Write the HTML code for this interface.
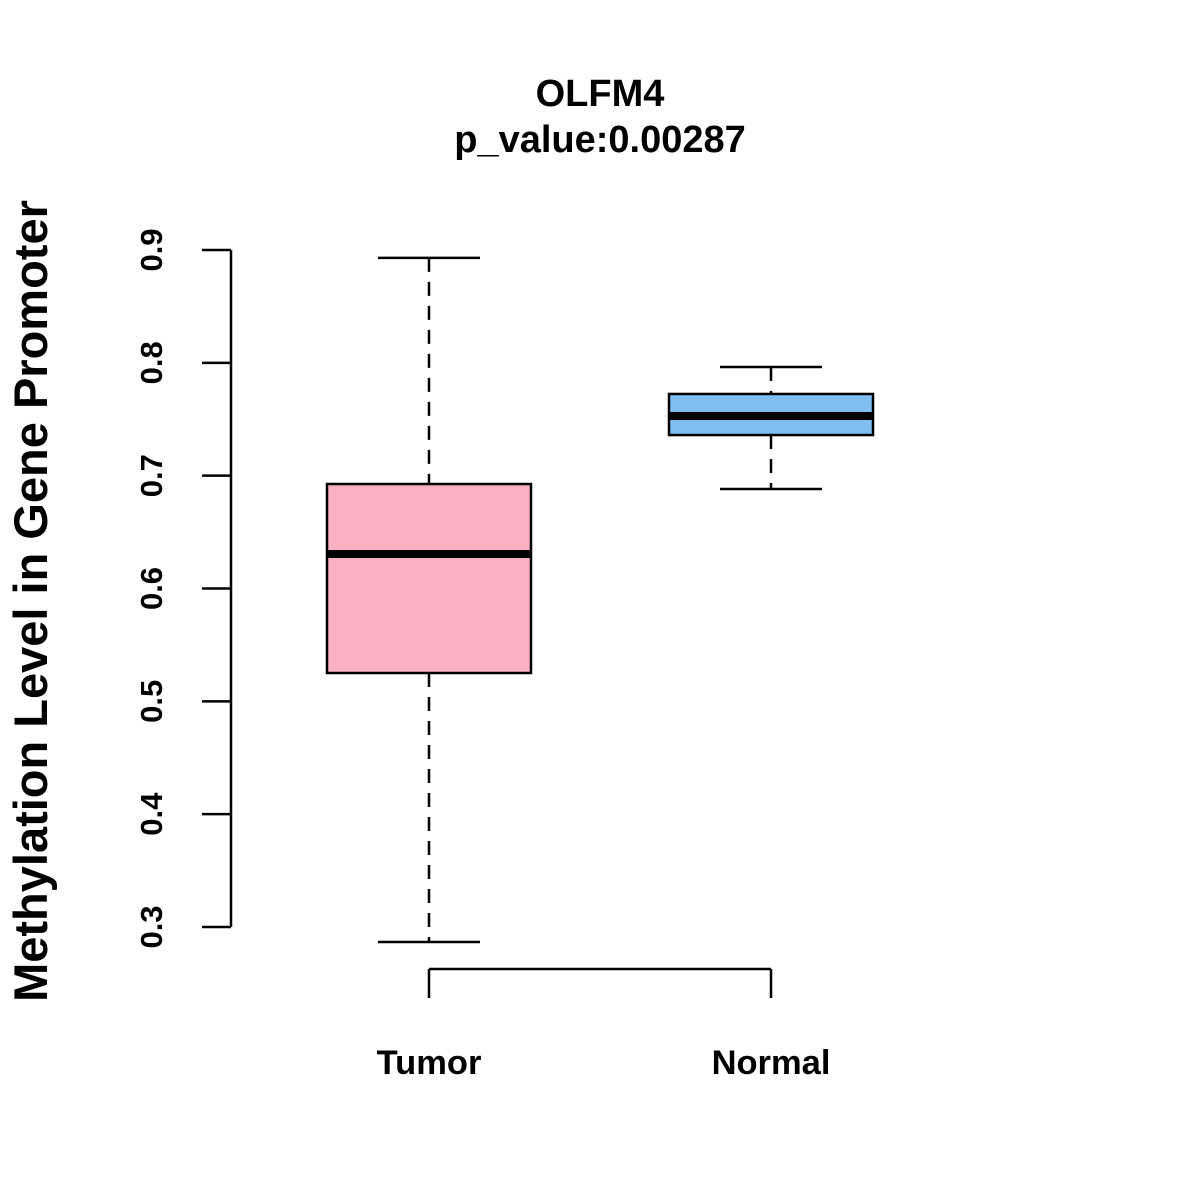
<!DOCTYPE html>
<html><head><meta charset="utf-8"><style>html,body{margin:0;padding:0;background:#fff}svg{display:block}text{font-family:"Liberation Sans",Arial,sans-serif;font-weight:bold;fill:#000}</style></head>
<body>
<svg id="chart" width="1200" height="1200">
<text x="600" y="106" text-anchor="middle" font-size="38">OLFM4</text>
<text x="600" y="152" text-anchor="middle" font-size="38">p_value:0.00287</text>
<text transform="translate(47,601) rotate(-90)" text-anchor="middle" font-size="47">Methylation Level in Gene Promoter</text>
<g id="g"></g>
</svg>
<script>
const categories=["Tumor","Normal"];
const mins=[0.2867,0.6882];
const q1s=[0.5251,0.736];
const medians=[0.6306,0.7529];
const q3s=[0.6926,0.7724];
const maxs=[0.893,0.7963];
const colors=["#fcb1c3","#7ebef0"];
const yTicks=[0.3,0.4,0.5,0.6,0.7,0.8,0.9];
const yTickLabels=["0.3","0.4","0.5","0.6","0.7","0.8","0.9"];
const NS="http://www.w3.org/2000/svg";
const g=document.getElementById('g');
function y(v){return 927-(v-0.3)*(677/0.6);}
function x(i){return 429+i*342;}
function mk(t,a){const e=document.createElementNS(NS,t);for(const k in a)e.setAttribute(k,a[k]);g.appendChild(e);return e;}
let e=mk('line',{x1:231,x2:231,y1:y(yTicks[0]),y2:y(yTicks[yTicks.length-1]),stroke:'#000','stroke-width':2.5});


yTicks.forEach((t,i)=>{
 let l=mk('line',{x1:202,x2:231,y1:y(t),y2:y(t),stroke:'#000','stroke-width':2.5});
 
 
 let tx=mk('text',{transform:`translate(162,${y(t)}) rotate(-90)`,'text-anchor':'middle','font-size':31});
 tx.textContent=yTickLabels[i];
 
 
});
e=mk('line',{x1:x(0),x2:x(categories.length-1),y1:969,y2:969,stroke:'#000','stroke-width':2.5});


categories.forEach((c,i)=>{
 const cx=x(i);
 let l=mk('line',{x1:cx,x2:cx,y1:969,y2:998,stroke:'#000','stroke-width':2.5});
 
 
 let tx=mk('text',{x:cx,y:1074,'text-anchor':'middle','font-size':34.5});
 tx.textContent=c;
 
 
 let w1=mk('line',{x1:cx,x2:cx,y1:y(maxs[i]),y2:y(q3s[i]),stroke:'#000','stroke-width':2.5,'stroke-dasharray':'14,10'});
 
 
 let w2=mk('line',{x1:cx,x2:cx,y1:y(q1s[i]),y2:y(mins[i]),stroke:'#000','stroke-width':2.5,'stroke-dasharray':'14,10'});
 
 
 let c1=mk('line',{x1:cx-51,x2:cx+51,y1:y(maxs[i]),y2:y(maxs[i]),stroke:'#000','stroke-width':2.5});
 
 
 let c2=mk('line',{x1:cx-51,x2:cx+51,y1:y(mins[i]),y2:y(mins[i]),stroke:'#000','stroke-width':2.5});
 
 
 let r=mk('rect',{x:cx-102,y:y(q3s[i]),width:204,height:y(q1s[i])-y(q3s[i]),fill:colors[i],stroke:'#000','stroke-width':2.5});
 
 
 let m=mk('line',{x1:cx-102,x2:cx+102,y1:y(medians[i]),y2:y(medians[i]),stroke:'#000','stroke-width':8});
 
 
});
</script>
</body></html>
